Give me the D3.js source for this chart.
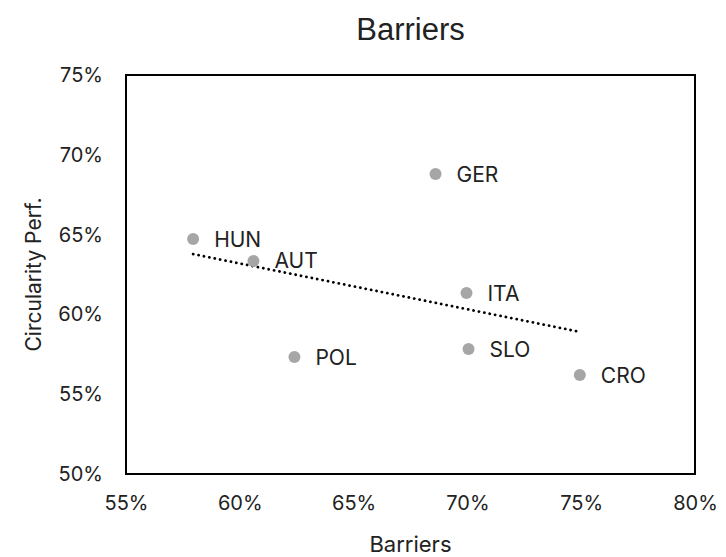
<!DOCTYPE html>
<html>
<head>
<meta charset="utf-8">
<script src="https://cdn.jsdelivr.net/npm/d3@7"></script>
<style>
  body { margin: 0; background: #fff; }
  text { font-family: Inter, "Noto Sans", sans-serif; fill: #222; }
</style>
</head>
<body>
<div id="chart"></div>
<script>
// data (fractions)
const countries = ["GER", "HUN", "AUT", "ITA", "POL", "SLO", "CRO"];
const barriers = [0.686, 0.5795, 0.606, 0.6996, 0.624, 0.7005, 0.7494];
const circularity = [0.688, 0.6472, 0.6335, 0.6134, 0.5733, 0.5783, 0.562];
const xTicks = [0.55, 0.60, 0.65, 0.70, 0.75, 0.80];
const yTicks = [0.50, 0.55, 0.60, 0.65, 0.70, 0.75];

const W = 726, H = 557;
const margin = { top: 75, right: 31, bottom: 83, left: 126 };
const width = W - margin.left - margin.right;
const height = H - margin.top - margin.bottom;

const svg = d3.select("#chart").append("svg")
  .attr("width", W).attr("height", H);

const g = svg.append("g")
  .attr("transform", `translate(${margin.left},${margin.top})`);

const x = d3.scaleLinear().domain([0.55, 0.80]).range([0, width]);
const y = d3.scaleLinear().domain([0.50, 0.75]).range([height, 0]);

// x axis labels
g.append("g")
  .attr("transform", `translate(0,${height})`)
  .call(d3.axisBottom(x).tickValues(xTicks).tickFormat(d3.format(".0%")).tickSize(0).tickPadding(22))
  .call(a => a.select(".domain").remove())
  .selectAll("text").style("font-size", "20px").attr("fill", "#222");

// y axis labels
g.append("g")
  .call(d3.axisLeft(y).tickValues(yTicks).tickFormat(d3.format(".0%")).tickSize(0).tickPadding(23))
  .call(a => a.select(".domain").remove())
  .selectAll("text").style("font-size", "20px").attr("fill", "#222");

// plot frame
g.append("rect")
  .attr("width", width).attr("height", height)
  .attr("fill", "none").attr("stroke", "#000").attr("stroke-width", 2);

// linear trendline (least squares)
const n = barriers.length;
const mx = d3.mean(barriers), my = d3.mean(circularity);
let sxy = 0, sxx = 0;
for (let i = 0; i < n; i++) {
  sxy += (barriers[i] - mx) * (circularity[i] - my);
  sxx += (barriers[i] - mx) ** 2;
}
const slope = sxy / sxx, icpt = my - slope * mx;
const [x0, x1] = d3.extent(barriers);
g.append("line")
  .attr("x1", x(x0)).attr("y1", y(icpt + slope * x0))
  .attr("x2", x(x1)).attr("y2", y(icpt + slope * x1))
  .attr("stroke", "#000").attr("stroke-width", 2.8)
  .attr("stroke-dasharray", "0.1 5.4").attr("stroke-linecap", "round");

// points
g.selectAll("circle.pt")
  .data(countries)
  .join("circle")
  .attr("class", "pt")
  .attr("cx", (d, i) => x(barriers[i]))
  .attr("cy", (d, i) => y(circularity[i]))
  .attr("r", 6)
  .attr("fill", "#a6a6a6");

// point labels
g.selectAll("text.lbl")
  .data(countries)
  .join("text")
  .attr("class", "lbl")
  .attr("x", (d, i) => x(barriers[i]) + 21)
  .attr("y", (d, i) => y(circularity[i]))
  .attr("dy", "0.36em")
  .style("font-size", "21px")
  .text(d => d);

// title
svg.append("text")
  .attr("x", margin.left + width / 2).attr("y", 40)
  .attr("text-anchor", "middle")
  .style("font-family", "'Liberation Sans Narrow', 'Arial Narrow', sans-serif")
  .style("font-size", "31px")
  .text("Barriers");

// axis titles
svg.append("text")
  .attr("x", margin.left + width / 2).attr("y", 552)
  .attr("text-anchor", "middle")
  .style("font-size", "22px")
  .text("Barriers");

svg.append("text")
  .attr("transform", `translate(41,${margin.top + height / 2}) rotate(-90)`)
  .attr("text-anchor", "middle")
  .style("font-size", "21px")
  .text("Circularity Perf.");
</script>
</body>
</html>
